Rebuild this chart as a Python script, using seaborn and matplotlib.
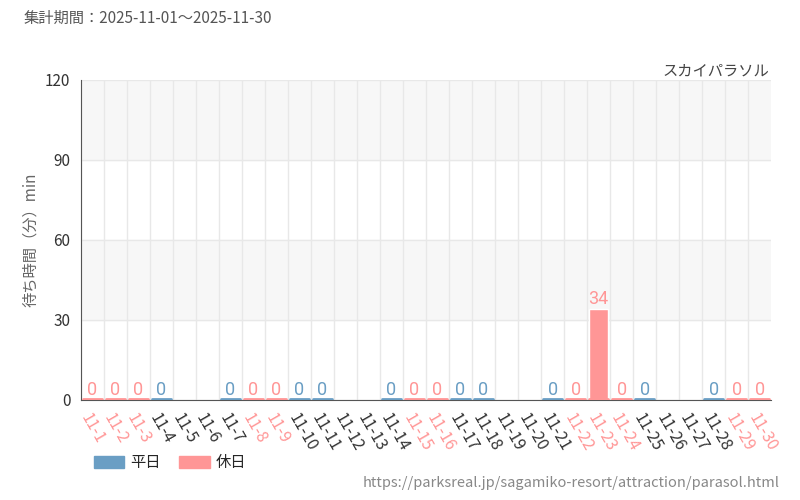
import numpy as np
import pandas as pd
import matplotlib.pyplot as plt
import seaborn as sns

days = [f"11-{d}" for d in range(1, 31)]
holidays = [1, 2, 3, 8, 9, 15, 16, 22, 23, 24, 29, 30]
waits = [0, 0, 0, 0, None, None, 0, 0, 0, 0, 0, None, None, 0, 0,
         0, 0, 0, None, None, 0, 0, 34, 0, 0, None, None, 0, 0, 0]

blue = '#6a9ec4'
pink = '#ff9696'

df = pd.DataFrame({'day': days, 'wait': waits})
df['kind'] = ['休日' if i + 1 in holidays else '平日' for i in range(30)]

sns.set_style('white')
plt.rcParams['font.family'] = ['Noto Sans CJK JP', 'DejaVu Sans']
fig = plt.figure(figsize=(8, 5), dpi=100)
ax = fig.add_axes([0.101, 0.2, 0.863, 0.64])

# Background bands
for lo in (0, 60):
    ax.axhspan(lo + 30, lo + 60, color='#f7f7f7', zorder=0)

sns.barplot(data=df, x='day', y='wait', hue='kind', palette={'平日': blue, '休日': pink},
            dodge=False, width=0.8, saturation=1, ax=ax, legend=False, order=days, zorder=2)

for i, v in enumerate(waits):
    if v is None:
        continue
    c = pink if i + 1 in holidays else blue
    ax.plot([i - 0.4, i + 0.4], [0.4, 0.4], color=c, lw=2, zorder=3)
    ax.text(i, v + 0.5, str(v), ha='center', va='bottom', color=c, fontsize=13,
            fontstretch='condensed', family=['Roboto', 'DejaVu Sans'], zorder=4)

ax.set_ylim(0, 120)
ax.set_xlim(-0.5, 29.5)
ax.set_yticks([0, 30, 60, 90, 120])
ax.set_xticks(np.arange(30) - 0.5, minor=True)
ax.grid(True, which='minor', axis='x', color='#e8e8e8', lw=1)
ax.grid(True, which='major', axis='y', color='#e8e8e8', lw=1)
ax.set_axisbelow(True)
for s in ['top', 'right']:
    ax.spines[s].set_visible(False)
ax.spines['left'].set_color('#555555')
ax.spines['bottom'].set_color('#555555')
ax.tick_params(axis='x', which='major', length=4, color='#333333')
ax.tick_params(axis='x', which='minor', length=0)
ax.tick_params(axis='y', labelsize=11, labelcolor='#333333', length=4)
ax.set_xticklabels(days, rotation=-60, ha='left', rotation_mode='anchor', fontsize=11.5)
for i, lbl in enumerate(ax.get_xticklabels()):
    lbl.set_color(pink if i + 1 in holidays else '#333333')
ax.set_xlabel('')
ax.set_ylabel('待ち時間（分）min', fontsize=11, color='#666666')

fig.text(0.03, 0.955, '集計期間：2025-11-01～2025-11-30', fontsize=11, color='#555555')
fig.text(0.962, 0.848, 'スカイパラソル', fontsize=11, color='#444444', ha='right')
fig.text(0.975, 0.025, 'https://parksreal.jp/sagamiko-resort/attraction/parasol.html',
         fontsize=10.5, color='#888888', ha='right')

ax.legend(handles=[plt.Rectangle((0, 0), 1, 1, color=blue), plt.Rectangle((0, 0), 1, 1, color=pink)],
          labels=['平日', '休日'], loc='lower left', bbox_to_anchor=(0.1, 0.03),
          bbox_transform=fig.transFigure, ncol=2, frameon=False, fontsize=11,
          handlelength=2.0, handleheight=0.9, handletextpad=0.4, columnspacing=1.2)

fig.savefig('out.png')
